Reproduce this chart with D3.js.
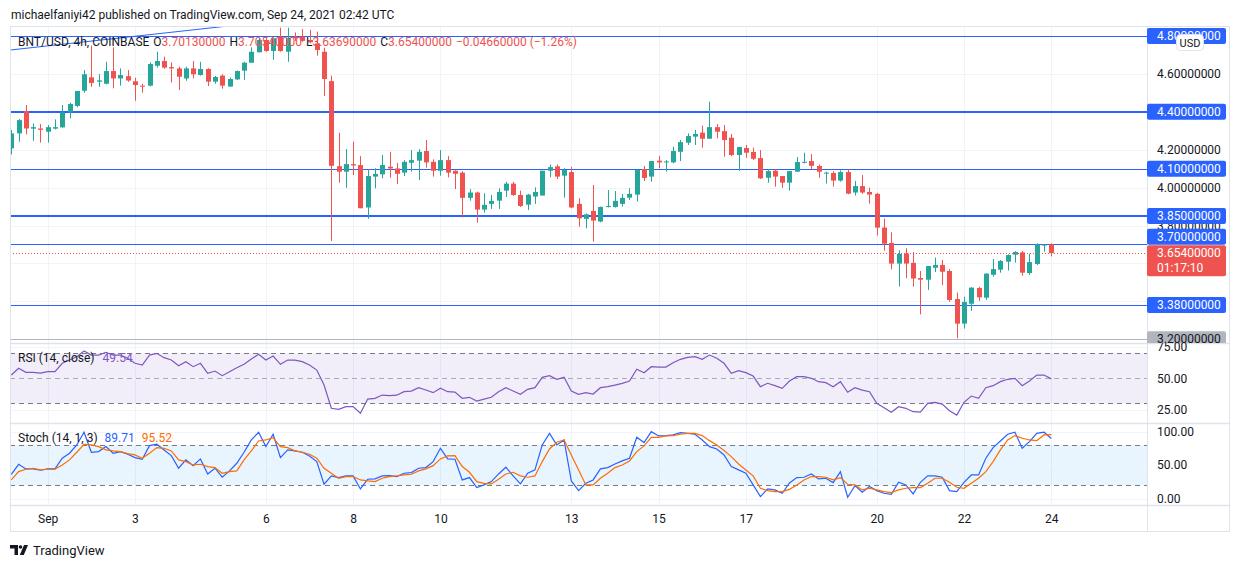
<!DOCTYPE html>
<html>
<head>
<meta charset="utf-8">
<script src="https://cdn.jsdelivr.net/npm/d3@7"></script>
<style>
  body { margin: 0; background: #fff; }
  text { font-family: Roboto, "Noto Sans", sans-serif; }
</style>
</head>
<body>
<div id="chart"></div>
<script>
// BNT/USD 4h candles, first one opens Aug 31 04:00 UTC
const startTime = Date.UTC(2021, 7, 31, 4);
const stepMs = 4 * 3600 * 1000;

const opens = [4.207,4.286,4.404,4.311,4.312,4.295,4.311,4.318,4.397,4.431,4.511,4.582,4.559,4.548,4.615,4.576,4.588,4.561,4.538,4.538,
  4.643,4.668,4.636,4.629,4.576,4.629,4.594,4.626,4.559,4.591,4.533,4.571,4.617,4.659,4.714,4.779,4.721,4.796,4.717,4.796,
  4.796,4.779,4.761,4.717,4.562,4.113,4.084,4.124,4.119,3.895,4.058,4.070,4.110,4.101,4.079,4.131,4.142,4.193,4.136,4.089,
  4.145,4.089,4.079,3.946,3.974,3.884,3.914,3.931,3.984,4.021,3.961,3.910,3.953,3.958,4.089,4.112,4.063,4.082,3.914,3.835,
  3.877,3.821,3.898,3.898,3.914,3.947,3.963,4.098,4.058,4.142,4.135,4.133,4.189,4.237,4.269,4.290,4.258,4.319,4.298,4.263,
  4.172,4.209,4.188,4.156,4.052,4.089,4.061,4.026,4.084,4.131,4.140,4.114,4.075,4.077,4.037,4.082,3.974,4.008,3.977,3.967,
  3.789,3.708,3.599,3.652,3.603,3.523,3.514,3.577,3.592,3.560,3.412,3.282,3.387,3.470,3.419,3.540,3.567,3.609,3.646,3.658,
  3.549,3.597,3.694,3.7013];
const highs = [4.304,4.362,4.436,4.339,4.335,4.330,4.360,4.436,4.448,4.510,4.620,4.749,4.599,4.664,4.740,4.629,4.620,4.580,4.548,4.661,
  4.717,4.691,4.661,4.638,4.638,4.668,4.664,4.630,4.589,4.598,4.580,4.618,4.664,4.740,4.788,4.796,4.796,4.844,4.844,4.819,
  4.837,4.832,4.823,4.738,4.591,4.290,4.203,4.242,4.166,4.098,4.102,4.172,4.189,4.131,4.145,4.198,4.203,4.251,4.149,4.198,
  4.166,4.091,4.087,3.992,3.979,3.970,3.961,3.996,4.031,4.031,3.984,3.967,4.001,4.089,4.122,4.122,4.102,4.110,3.944,3.863,
  4.014,3.900,3.987,3.982,3.967,3.996,4.098,4.114,4.140,4.166,4.145,4.216,4.251,4.286,4.304,4.327,4.453,4.335,4.330,4.283,
  4.214,4.225,4.211,4.198,4.098,4.098,4.061,4.087,4.161,4.184,4.177,4.122,4.084,4.087,4.091,4.096,4.035,4.066,3.999,3.972,
  3.836,3.764,3.669,3.680,3.660,3.560,3.586,3.631,3.618,3.570,3.446,3.424,3.475,3.477,3.548,3.623,3.618,3.648,3.665,3.665,
  3.651,3.706,3.702,3.7054];
const lows = [4.175,4.242,4.281,4.247,4.237,4.237,4.307,4.316,4.365,4.424,4.501,4.532,4.532,4.545,4.524,4.538,4.558,4.458,4.501,4.534,
  4.633,4.627,4.555,4.515,4.564,4.576,4.591,4.536,4.548,4.522,4.533,4.568,4.568,4.659,4.714,4.717,4.675,4.717,4.664,4.774,
  4.770,4.761,4.696,4.483,3.718,4.026,3.999,4.066,3.891,3.835,3.996,4.049,4.052,4.019,4.061,4.084,4.040,4.105,4.058,4.063,
  4.054,3.992,3.842,3.931,3.815,3.868,3.887,3.887,3.951,3.956,3.898,3.882,3.914,3.958,4.054,4.045,3.947,3.891,3.794,3.785,
  3.715,3.817,3.895,3.895,3.900,3.935,3.926,4.035,4.031,4.102,4.084,4.128,4.140,4.225,4.225,4.211,4.258,4.260,4.163,4.166,
  4.089,4.158,4.145,4.045,4.026,4.005,3.999,3.984,4.084,4.128,4.098,4.052,4.021,4.005,4.031,3.965,3.958,3.967,3.916,3.747,
  3.667,3.569,3.478,3.522,3.478,3.331,3.460,3.554,3.486,3.398,3.205,3.256,3.350,3.402,3.407,3.530,3.551,3.562,3.604,3.535,
  3.540,3.592,3.662,3.6369];
const closes = [4.286,4.356,4.312,4.319,4.305,4.319,4.319,4.397,4.441,4.510,4.598,4.552,4.566,4.615,4.576,4.594,4.565,4.541,4.534,4.652,
  4.668,4.633,4.629,4.585,4.629,4.598,4.626,4.559,4.584,4.538,4.573,4.615,4.659,4.717,4.779,4.721,4.788,4.721,4.791,4.788,
  4.774,4.767,4.726,4.573,4.115,4.084,4.124,4.117,3.891,4.061,4.072,4.119,4.101,4.073,4.136,4.145,4.189,4.133,4.089,4.145,
  4.079,4.073,3.946,3.974,3.884,3.909,3.930,3.977,4.021,3.961,3.903,3.963,3.977,4.089,4.108,4.058,4.093,3.895,3.838,3.859,
  3.826,3.898,3.903,3.930,3.946,3.967,4.093,4.051,4.140,4.133,4.138,4.193,4.240,4.272,4.283,4.258,4.319,4.295,4.251,4.172,
  4.214,4.184,4.152,4.049,4.087,4.058,4.026,4.087,4.135,4.136,4.115,4.084,4.079,4.037,4.082,3.968,4.008,3.974,3.963,3.789,
  3.704,3.599,3.650,3.599,3.520,3.514,3.586,3.592,3.556,3.407,3.282,3.396,3.472,3.421,3.546,3.570,3.613,3.644,3.660,3.551,
  3.607,3.701,3.7006,3.654];

const rsi = [52.6,58,54.8,54.8,54.2,55.3,55.3,62,64.6,67.3,71.8,68.6,68.6,70.8,68.6,68.6,66,62,60.6,68.6,
  70,66.5,64.6,60.1,63.3,59.3,62,54,55.8,52.1,55.3,58.5,61.2,65.4,69.2,64.6,67.8,61.2,64.6,64.6,
  63.3,60.6,56.6,44.6,26,25.2,27.3,27.3,22,33.4,34,36.6,36.1,36.5,39.3,39.8,42.5,40.6,38.5,42,
  39.3,39,34,34.8,31.8,33.4,34.8,39.3,42.5,39.8,37.2,41.2,42.5,50.8,52.1,49.2,50.8,39.8,37.2,38.5,
  37.4,42.5,43.3,44.6,46,47.8,57.2,54.5,59.3,59,59,62.5,65.2,66.8,67.3,65.2,68.6,66,62,54,
  56.1,54.5,51.8,43.3,46,44.1,42,47.8,51.3,51.3,50,47.3,46.5,43.3,47.3,38.8,42.5,40.6,39.3,30,
  26.5,22.8,27.3,26,23.3,23,30,30.8,29.4,24.1,20.6,30.8,35.8,34,42.5,44.1,47.3,49.2,50,44.1,
  47.8,52.6,52.6,49.54];
const stochK = [36.4,51.3,44.4,44.4,42.4,44.4,44.4,60.3,67.7,80.1,99,69.2,70.2,77.6,67.7,70.2,66.2,61.3,58.8,79.1,
  81.1,72.7,64.2,45.4,57.8,49.3,59.3,36.9,45.4,32,41.4,52.8,69.2,87.5,99,77.6,96,61.3,72.7,71.2,
  69.2,63.7,55.3,21.6,34,31.5,34,34,14.6,29,29.5,34,34.5,33,37.9,38.9,45.4,46.4,55.3,75.1,
  59.3,58.8,28,31.5,16.6,20.6,25.5,36.9,46.9,34,22.1,37.9,42.9,80.1,97.4,80.1,87.5,26.5,12.1,23,
  28,44.4,46.4,51.8,56.3,60.3,91.5,83.6,99.9,93.5,94,95,98.4,97.4,96,87.5,77.6,74.1,65.2,47.9,
  42.9,37.9,20.6,3.2,14.6,13.1,8,23.5,31.5,32,36.9,29.5,30.5,24,40.4,2.2,19.6,9.6,18.1,12.1,
  8.2,6.7,24.5,20.6,7.2,24.5,34,34,32,12.1,10.7,24.5,35.4,35.4,60.3,76.1,86,96,99,75.1,
  85,97.4,99,89.71];
const stochD = [28,40.4,43.9,45.4,42.9,43.9,43.9,50.3,57.8,69.2,81.1,80.1,77.6,72.7,71.2,70.2,67.2,65.2,60.3,67.7,
  76.1,75.1,71.2,57.8,55.3,50.3,51.3,47.9,46.4,37.9,40.4,41.4,57.8,71.2,86,87.5,91,77.6,76.1,71.2,
  69.2,66.2,60.3,45.4,37.9,30.5,33,33,28,26.5,25.5,30.5,33,34,35.4,36.4,41.4,44.4,49.3,59.3,
  63.7,64.2,47.9,39.4,25.5,23,22.1,29,36.9,39.4,34,32,34,55.3,74.1,84.1,87.5,65.2,42.9,20.6,
  20.6,30.5,37.9,46.4,50.3,56.3,70.2,78.6,91.5,91.5,93.5,94,96,97.4,97.4,94,86.5,80.1,71.7,62.7,
  51.8,42.9,34,15.6,12.1,10.7,10.7,14,20.6,28,33,33,32,28,31.5,21.6,20.6,13.1,15.6,13.1,
  10.7,9.1,13.1,15.6,16.6,16.6,23,30.5,30.5,24.5,17.1,15.6,23,30.5,40.4,55.3,72.7,87.5,94,90,
  87.5,86.5,95,95.52];

// horizontal levels drawn on the chart
const levelPrices = [4.80, 4.40, 4.10, 3.85, 3.70, 3.38];
const levelWidths = [1, 2, 1, 2, 1, 1];
const floorLevel = 3.20;
const trendTimes = [Date.UTC(2021, 7, 31, 0), Date.UTC(2021, 8, 5, 12)];
const trendPrices = [4.7225, 4.862];

// 3.6 sits fully under the live price label, so it is not listed
const priceTicks = [4.6, 4.4, 4.2, 4.0, 3.8, 3.4];
const gridPrices = [4.6, 4.4, 4.2, 4.0, 3.8, 3.6, 3.4, 3.2];
const dateTicks = [1, 3, 6, 8, 10, 13, 15, 17, 20, 22, 24];
const rsiTicks = [75, 50, 25];
const stochTicks = [100, 50, 0];
const countdown = "01:17:10";

const W = 1240, H = 568;
const plotL = 10, plotR = 1147, axisR = 1230;
const mainTop = 27, mainBot = 343, rsiBot = 423, stochBot = 505, frameBot = 532;
const green = "#26a69a", red = "#ef5350", blue = "#2962ff";
const gridC = "#f0f3fa", sepC = "#e0e3eb", textC = "#131722";

const svg = d3.select("#chart").append("svg").attr("width", W).attr("height", H);

const x = d3.scaleUtc()
  .domain([new Date(Date.UTC(2021, 8, 1)), new Date(Date.UTC(2021, 8, 24))])
  .range([47.7, 1051.3]);
const y = d3.scaleLinear().domain([3.2, 4.8]).range([339.2, 36]);
const yRsi = d3.scaleLinear().domain([30, 70]).range([403.3, 353.3]);
const yStoch = d3.scaleLinear().domain([20, 80]).range([485.3, 445]);

const candles = opens.map((o, i) => ({
  t: new Date(startTime + i * stepMs), o: o, h: highs[i], l: lows[i], c: closes[i],
  rsi: rsi[i], k: stochK[i], d: stochD[i]
}));
const last = candles[candles.length - 1];
const prev = candles[candles.length - 2];

const defs = svg.append("defs");
[["clipMain", mainTop, mainBot], ["clipRsi", mainBot, rsiBot], ["clipStoch", rsiBot, stochBot]].forEach(c => {
  defs.append("clipPath").attr("id", c[0]).append("rect")
    .attr("x", plotL).attr("y", c[1]).attr("width", plotR - plotL).attr("height", c[2] - c[1]);
});

const crisp = v => Math.round(v) + 0.5;
const dateVals = dateTicks.map(d => new Date(Date.UTC(2021, 8, d)));

// grid
const grid = svg.append("g");
dateVals.forEach(d => {
  grid.append("line").attr("x1", crisp(x(d))).attr("x2", crisp(x(d)))
    .attr("y1", mainTop).attr("y2", stochBot).attr("stroke", gridC);
});
gridPrices.forEach(p => {
  grid.append("line").attr("x1", plotL).attr("x2", plotR).attr("y1", crisp(y(p))).attr("y2", crisp(y(p))).attr("stroke", gridC);
});

// RSI & stoch backgrounds
const rsiG = svg.append("g").attr("clip-path", "url(#clipRsi)");
rsiG.append("rect").attr("x", plotL).attr("width", plotR - plotL)
  .attr("y", yRsi(70)).attr("height", yRsi(30) - yRsi(70)).attr("fill", "rgba(126,87,194,0.1)");
rsiTicks.forEach(v => rsiG.append("line").attr("x1", plotL).attr("x2", plotR)
  .attr("y1", crisp(yRsi(v))).attr("y2", crisp(yRsi(v))).attr("stroke", gridC));
[70, 50, 30].forEach(v => rsiG.append("line").attr("x1", plotL).attr("x2", plotR)
  .attr("y1", crisp(yRsi(v))).attr("y2", crisp(yRsi(v)))
  .attr("stroke", "#787b86").attr("stroke-opacity", v === 50 ? 0.6 : 1).attr("stroke-dasharray", "5,4"));
rsiG.append("path").datum(candles)
  .attr("d", d3.line().x(d => x(d.t)).y(d => yRsi(d.rsi)))
  .attr("fill", "none").attr("stroke", "#7e57c2").attr("stroke-width", 1.2);

const stG = svg.append("g").attr("clip-path", "url(#clipStoch)");
stG.append("rect").attr("x", plotL).attr("width", plotR - plotL)
  .attr("y", yStoch(80)).attr("height", yStoch(20) - yStoch(80)).attr("fill", "rgba(33,150,243,0.1)");
stochTicks.forEach(v => stG.append("line").attr("x1", plotL).attr("x2", plotR)
  .attr("y1", crisp(yStoch(v))).attr("y2", crisp(yStoch(v))).attr("stroke", gridC));
[80, 20].forEach(v => stG.append("line").attr("x1", plotL).attr("x2", plotR)
  .attr("y1", crisp(yStoch(v))).attr("y2", crisp(yStoch(v)))
  .attr("stroke", "#787b86").attr("stroke-dasharray", "5,4"));
stG.append("path").datum(candles)
  .attr("d", d3.line().x(d => x(d.t)).y(d => yStoch(d.k)))
  .attr("fill", "none").attr("stroke", blue).attr("stroke-width", 1.2);
stG.append("path").datum(candles)
  .attr("d", d3.line().x(d => x(d.t)).y(d => yStoch(d.d)))
  .attr("fill", "none").attr("stroke", "#ff6d00").attr("stroke-width", 1.2);

// main panel
const main = svg.append("g").attr("clip-path", "url(#clipMain)");
main.append("line").attr("x1", plotL).attr("x2", plotR)
  .attr("y1", crisp(y(floorLevel))).attr("y2", crisp(y(floorLevel))).attr("stroke", "#b2b5be");
levelPrices.forEach((p, i) => {
  const yy = levelWidths[i] === 2 ? Math.round(y(p)) : crisp(y(p));
  main.append("line").attr("x1", plotL).attr("x2", plotR).attr("y1", yy).attr("y2", yy)
    .attr("stroke", blue).attr("stroke-width", levelWidths[i]);
});
main.append("line")
  .attr("x1", x(new Date(trendTimes[0]))).attr("y1", y(trendPrices[0]))
  .attr("x2", x(new Date(trendTimes[1]))).attr("y2", y(trendPrices[1]))
  .attr("stroke", blue).attr("stroke-width", 1);

const cg = main.selectAll("g.candle").data(candles).join("g").attr("class", "candle");
cg.append("line")
  .attr("x1", d => crisp(x(d.t))).attr("x2", d => crisp(x(d.t)))
  .attr("y1", d => y(d.h)).attr("y2", d => y(d.l))
  .attr("stroke", d => d.c >= d.o ? green : red);
cg.append("rect")
  .attr("x", d => Math.round(x(d.t)) - 2).attr("width", 5)
  .attr("y", d => y(Math.max(d.o, d.c)))
  .attr("height", d => Math.max(1, Math.abs(y(d.o) - y(d.c))))
  .attr("fill", d => d.c >= d.o ? green : red);

main.append("line").attr("x1", plotL).attr("x2", plotR)
  .attr("y1", crisp(y(last.c))).attr("y2", crisp(y(last.c)))
  .attr("stroke", red).attr("stroke-dasharray", "1,2");

// frame and separators
const frame = svg.append("g").attr("fill", "none").attr("stroke", sepC);
frame.append("rect").attr("x", plotL + 0.5).attr("y", mainTop - 0.5)
  .attr("width", axisR - plotL - 1).attr("height", frameBot - mainTop);
frame.append("line").attr("x1", plotR + 0.5).attr("x2", plotR + 0.5).attr("y1", mainTop).attr("y2", frameBot);
[mainBot, rsiBot, stochBot].forEach(v => frame.append("line")
  .attr("x1", plotL).attr("x2", axisR).attr("y1", v + 0.5).attr("y2", v + 0.5).attr("stroke-width", 1.5));

// axes
const styleAxis = g => {
  g.select(".domain").remove();
  g.selectAll(".tick line").remove();
  g.selectAll("text").attr("fill", textC).attr("font-size", 12);
};
svg.append("g").attr("transform", `translate(0,${stochBot})`)
  .call(d3.axisBottom(x).tickValues(dateVals).tickSize(0).tickPadding(9)
    .tickFormat(d => d.getUTCDate() === 1 ? "Sep" : d.getUTCDate()))
  .call(styleAxis);
svg.append("g").attr("transform", `translate(${plotR},0)`)
  .call(d3.axisRight(y).tickValues(priceTicks).tickSize(0).tickPadding(10).tickFormat(d => d.toFixed(8)))
  .call(styleAxis);
svg.append("g").attr("transform", `translate(${plotR},0)`)
  .call(d3.axisRight(yRsi).tickValues(rsiTicks).tickSize(0).tickPadding(10).tickFormat(d => d.toFixed(2)))
  .call(styleAxis);
svg.append("g").attr("transform", `translate(${plotR},0)`)
  .call(d3.axisRight(yStoch).tickValues(stochTicks).tickSize(0).tickPadding(10).tickFormat(d => d.toFixed(2)))
  .call(styleAxis);

// price axis labels
const labels = svg.append("g").attr("font-size", 12);
const redTop = y(last.c) - 8;
const box = (cy, h, fill, lines, txt) => {
  labels.append("rect").attr("x", plotR).attr("y", cy).attr("width", 79).attr("height", h)
    .attr("rx", 2).attr("fill", fill);
  lines.forEach((s, j) => labels.append("text").attr("x", plotR + 10).attr("y", cy + 12 + j * 15)
    .attr("fill", txt).text(s));
};
// gray floor label, clipped by the panel edge
const floorG = labels.append("g").attr("clip-path", "url(#clipAxis)");
defs.append("clipPath").attr("id", "clipAxis").append("rect")
  .attr("x", plotR).attr("y", mainTop).attr("width", axisR - plotR).attr("height", mainBot - mainTop);
floorG.append("rect").attr("x", plotR).attr("y", y(floorLevel) - 8).attr("width", 79).attr("height", 16)
  .attr("rx", 2).attr("fill", "#b2b5be");
floorG.append("text").attr("x", plotR + 10).attr("y", y(floorLevel) + 4).attr("fill", textC)
  .text(floorLevel.toFixed(8));
levelPrices.forEach(p => {
  let top = y(p) - 8;
  if (top + 16 > redTop && top < redTop + 31) top = redTop - 16.5;
  box(top, 16, blue, [p.toFixed(8)], "#fff");
});
box(redTop, 31, red, [last.c.toFixed(8), countdown], "#fff");

// USD badge
labels.append("rect").attr("x", 1176.5).attr("y", 34.5).attr("width", 27).attr("height", 16)
  .attr("rx", 4).attr("fill", "#fff").attr("stroke", sepC);
labels.append("text").attr("x", 1190).attr("y", 46.5).attr("text-anchor", "middle")
  .attr("font-size", 11).attr("fill", textC).text("USD");

// legends
const fmt8 = v => v.toFixed(8);
const chg = last.c - prev.c;
const minus = s => s.replace("-", "\u2212");
const leg = svg.append("text").attr("x", 18).attr("y", 46).attr("font-size", 12).attr("fill", textC);
leg.append("tspan").text("BNT/USD, 4h, COINBASE");
[["O", last.o], ["H", last.h], ["L", last.l], ["C", last.c]].forEach(p => {
  leg.append("tspan").attr("dx", 4).text(p[0]);
  leg.append("tspan").attr("fill", red).text(fmt8(p[1]));
});
leg.append("tspan").attr("dx", 4).attr("fill", red)
  .text(minus(fmt8(chg)) + " (" + minus((chg / prev.c * 100).toFixed(2)) + "%)");

const rl = svg.append("text").attr("x", 18).attr("y", 362).attr("font-size", 12).attr("fill", textC);
rl.append("tspan").text("RSI (14, close)");
rl.append("tspan").attr("dx", 8).attr("fill", "#7e57c2").text(last.rsi.toFixed(2));
const sl = svg.append("text").attr("x", 18).attr("y", 442).attr("font-size", 12).attr("fill", textC);
sl.append("tspan").text("Stoch (14, 1, 3)");
sl.append("tspan").attr("dx", 7).attr("fill", blue).text(last.k.toFixed(2));
sl.append("tspan").attr("dx", 7).attr("fill", "#ff6d00").text(last.d.toFixed(2));

// header and footer
svg.append("text").attr("x", 11).attr("y", 19).attr("font-size", 12).attr("fill", textC)
  .text("michaelfaniyi42 published on TradingView.com, Sep 24, 2021 02:42 UTC");
const logo = svg.append("g").attr("fill", textC);
logo.append("path").attr("d", "M10,545 h8 v10 h-3.5 v-6.5 h-4.5 z");
logo.append("circle").attr("cx", 20.5).attr("cy", 547).attr("r", 1.8);
logo.append("path").attr("d", "M24,545 h4 l-4.2,10 h-4 z");
svg.append("text").attr("x", 33).attr("y", 555).attr("font-size", 13).attr("fill", textC).text("TradingView");
</script>
</body>
</html>
